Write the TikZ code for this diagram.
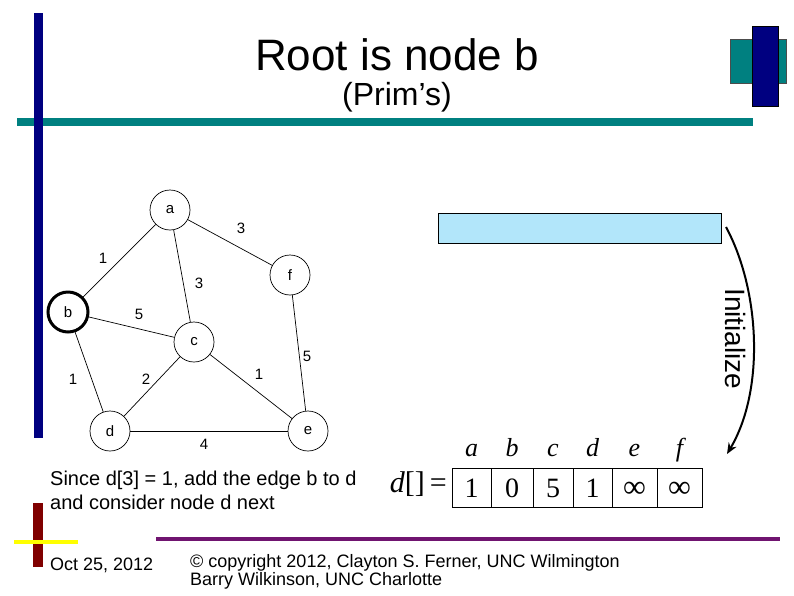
\documentclass[tikz,border=0pt]{standalone}
\usepackage{fontspec}
\setmainfont{Liberation Sans}
\newfontfamily\timesfont{Liberation Serif}
\usetikzlibrary{arrows.meta,positioning}
\definecolor{slidenavy}{RGB}{0,0,128}
\definecolor{slideteal}{RGB}{0,128,128}
\definecolor{slidered}{RGB}{128,0,0}
\definecolor{slideyellow}{RGB}{255,255,0}
\definecolor{slidepurple}{RGB}{112,20,112}
\definecolor{initblue}{RGB}{178,230,250}
\tikzset{
  vertex/.style={draw,circle,minimum size=40pt,inner sep=0pt,line width=0.7pt,font=\fontsize{15}{17}\selectfont},
  rootvertex/.style={vertex,line width=3pt},
  weight/.style={font=\fontsize{15}{17}\selectfont},
  cell/.style={draw,line width=0.8pt,minimum height=39pt,inner sep=0pt,text height=19pt,text depth=0pt,font=\timesfont\fontsize{28}{30}\selectfont},
  idx/.style={anchor=base,font=\timesfont\itshape\fontsize{26}{28}\selectfont}
}
\begin{document}
\begin{tikzpicture}[x=1pt,y=-1pt]
  \useasboundingbox (0,0) rectangle (794,595);
  % slide decoration
  \fill[slideteal] (17,118) rectangle (753,126);
  \fill[slidenavy] (34,13) rectangle (43,438);
  \filldraw[fill=slideteal,draw=black!70,line width=0.6pt] (730,39) rectangle (786,83);
  \filldraw[fill=slidenavy,draw=black,line width=0.6pt] (752,26) rectangle (778,106);
  \fill[slidered] (33,503) rectangle (43,567);
  \fill[slideyellow] (14,540) rectangle (78,544);
  \fill[slidepurple] (156,537) rectangle (780,541);
  % title
  \node[font=\fontsize{44}{48}\selectfont] (title) at (397,55) {Root is node b};
  \node[font=\fontsize{32}{34}\selectfont] (subtitle) at (397,97) {(Prim’s)};
  % graph
  \node[vertex] (a) at (170,210) {a};
  \node[vertex] (f) at (290,275) {f};
  \node[rootvertex] (b) at (68,312) {b};
  \node[vertex] (c) at (194,342) {c};
  \node[vertex] (d) at (110,431) {d};
  \node[vertex] (e) at (308,431) {e};
  \draw[line width=0.7pt] (a) -- (f);
  \draw[line width=0.7pt] (a) -- (b);
  \draw[line width=0.7pt] (a) -- (c);
  \draw[line width=0.7pt] (b) -- (c);
  \draw[line width=0.7pt] (b) -- (d);
  \draw[line width=0.7pt] (c) -- (d);
  \draw[line width=0.7pt] (c) -- (e);
  \draw[line width=0.7pt] (f) -- (e);
  \draw[line width=0.7pt] (d) -- (e);
  \node[weight] (waf) at (241,228) {3};
  \node[weight] (wab) at (103,258) {1};
  \node[weight] (wac) at (199,283) {3};
  \node[weight] (wbc) at (139,314) {5};
  \node[weight] (wbd) at (73,379) {1};
  \node[weight] (wcd) at (146,379) {2};
  \node[weight] (wce) at (259,374) {1};
  \node[weight] (wfe) at (307,356) {5};
  \node[weight] (wde) at (204,444) {4};
  % distance array
  \node[draw,line width=0.7pt,fill=initblue,minimum width=283pt,minimum height=30pt,inner sep=0pt] (dinit) at (579.5,228) {};
  \coordinate (arrowtop) at (726,227);
  \coordinate (arrowend) at (727,454);
  \draw[line width=2pt,-{Stealth[length=11pt,width=9pt]}] (arrowtop) .. controls (760,290) and (765,390) .. (arrowend);
  \node[rotate=-90,font=\fontsize{28}{30}\selectfont] (initlabel) at (735,339) {Initialize};
  \node[anchor=base east,inner sep=0pt,font=\timesfont\fontsize{30}{32}\selectfont] (dname) at (447,492) {\textit{d}[]\,=};
  \foreach \val/\cx/\w/\lab in {1/471.5/39/a, 0/512/42/b, 5/553/40/c, 1/592.5/39/d, {\fontsize{32}{32}\selectfont ∞}/634.5/45/e, {\fontsize{32}{32}\selectfont ∞}/679.5/45/f}{
    \node[cell,minimum width=\w pt] (cell\lab) at (\cx,487.5) {\val};
    \node[idx] (lab\lab) at (\cx,456) {\lab};
  }
  % texts
  \node[anchor=north west,align=left,inner sep=0pt,font=\fontsize{20}{24}\selectfont] (note) at (50,471) {Since d[3] = 1, add the edge b to d\\and consider node d next};
  \node[anchor=west,inner sep=0pt,font=\fontsize{18}{20}\selectfont] (date) at (50,565) {Oct 25, 2012};
  \node[anchor=north west,align=left,inner sep=0pt,font=\fontsize{18}{18}\selectfont] (copy) at (190,554) {© copyright 2012, Clayton S. Ferner, UNC Wilmington\\Barry Wilkinson, UNC Charlotte};
\end{tikzpicture}
\end{document}
